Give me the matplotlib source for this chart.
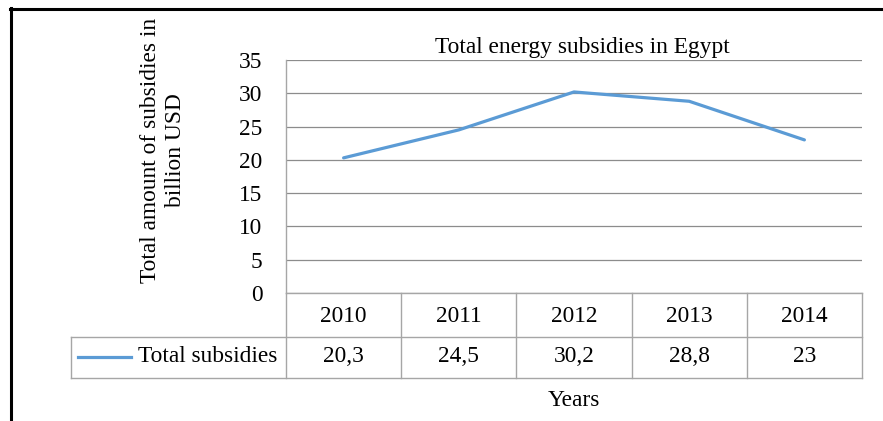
import matplotlib.pyplot as plt
from matplotlib.lines import Line2D
from matplotlib.transforms import blended_transform_factory

years = ["2010", "2011", "2012", "2013", "2014"]
subsidies = [20.3, 24.5, 30.2, 28.8, 23]
series_name = "Total subsidies"
yticks = [0, 5, 10, 15, 20, 25, 30, 35]

W, H = 883, 421
plt.rcParams['font.family'] = ['Liberation Serif', 'DejaVu Serif']
fs = 16.8


def fx(p):
    return p / W


def fy(p):
    return 1 - p / H


fig = plt.figure(figsize=(W / 100, H / 100), dpi=100)
ax = fig.add_axes([fx(286), fy(293), fx(862) - fx(286), fy(60) - fy(293)])

blue = "#5B9BD5"
grid = "#8C8C8C"
cell = "#A6A6A6"

x = list(range(len(years)))
ax.plot(x, subsidies, color=blue, linewidth=2.3, solid_capstyle="round")
ax.set_xlim(-0.5, len(years) - 0.5)
ax.set_ylim(0, 35)
ax.set_yticks(yticks)
ax.set_yticklabels([str(v) for v in yticks], fontsize=fs)
ax.set_xticks([])
ax.tick_params(axis="y", length=0, pad=17)
for s in ["top", "right", "bottom"]:
    ax.spines[s].set_visible(False)
ax.spines["left"].set_color(cell)
ax.spines["left"].set_linewidth(1)
for v in yticks:
    ax.axhline(v, color=grid, linewidth=0.9, zorder=0)

# data table under the plot
tr = blended_transform_factory(ax.transData, fig.transFigure)
n = len(years)
row_top, row_mid, row_bot = fy(293), fy(337), fy(378)
kw = dict(color=cell, linewidth=1, clip_on=False)
ax.add_line(Line2D([-0.5, n - 0.5], [row_top, row_top], transform=tr, **kw))
fig.add_artist(Line2D([fx(71), fx(862)], [row_mid, row_mid], **kw))
fig.add_artist(Line2D([fx(71), fx(862)], [row_bot, row_bot], **kw))
fig.add_artist(Line2D([fx(71), fx(71)], [row_mid, row_bot], **kw))
fig.add_artist(Line2D([fx(286), fx(286)], [row_top, row_bot], **kw))
for i in range(1, n + 1):
    ax.add_line(Line2D([i - 0.5, i - 0.5], [row_top, row_bot], transform=tr, **kw))
for i, (yr, v) in enumerate(zip(years, subsidies)):
    ax.text(i, fy(316), yr, transform=tr, ha="center", va="center", fontsize=fs)
    lab = f"{v:g}".replace(".", ",")
    ax.text(i, fy(357), lab, transform=tr, ha="center", va="center", fontsize=fs)

fig.add_artist(Line2D([fx(78), fx(131)], [fy(357), fy(357)], color=blue, linewidth=2.3))
fig.text(fx(277), fy(357), series_name, ha="right", va="center", fontsize=fs)

fig.text(fx(582), fy(47), "Total energy subsidies in Egypt", ha="center", va="center", fontsize=fs)
fig.text(fx(574), fy(400), "Years", ha="center", va="center", fontsize=fs)
fig.text(fx(163), fy(150), "Total amount of subsidies in\nbillion USD", rotation=90,
         ha="center", va="center", fontsize=fs, linespacing=1.2)

# black frame at top and left
fig.add_artist(Line2D([fx(10), 1], [fy(9), fy(9)], color="black", linewidth=2.2))
fig.add_artist(Line2D([fx(11), fx(11)], [fy(8), 0], color="black", linewidth=2.2))

fig.savefig("out.png", dpi=100)
